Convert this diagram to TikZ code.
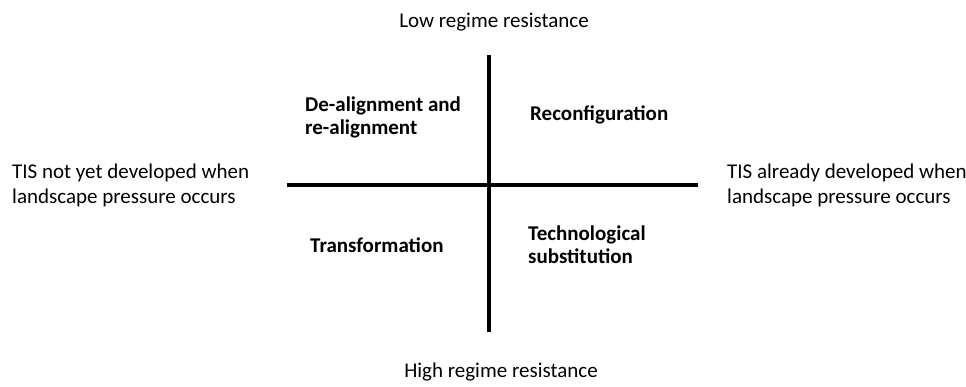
\documentclass[tikz,border=0pt]{standalone}
\usepackage{fontspec}
\setmainfont{Carlito}

\begin{document}
\begin{tikzpicture}[x=1pt, y=-1pt,
	axislabel/.style={font=\fontsize{21}{25}\selectfont, align=left, inner sep=0pt},
	quadrant/.style={font=\fontsize{21}{22.5}\selectfont\bfseries, align=left, inner sep=0pt}]
	\useasboundingbox (0,0) rectangle (966,386);
	\coordinate (top) at (489,55);
	\coordinate (bottom) at (489,332);
	\coordinate (west) at (287,185);
	\coordinate (east) at (698,185);
	\draw[line width=4pt] (top) -- (bottom);
	\draw[line width=4pt] (west) -- (east);
	\node[axislabel, anchor=base] (low) at (494,27) {Low regime resistance};
	\node[axislabel, anchor=base] (high) at (501,377) {High regime resistance};
	\node[axislabel, anchor=base west] (notyet) at (12,203) {TIS not yet developed when\\landscape pressure occurs};
	\node[axislabel, anchor=base west] (already) at (727,203) {TIS already developed when\\landscape pressure occurs};
	\node[quadrant, anchor=base west] (dealign) at (305,134) {De-alignment and\\re-alignment};
	\node[quadrant, anchor=base west] (reconf) at (530,120) {Reconfiguration};
	\node[quadrant, anchor=base west] (transf) at (310,252) {Transformation};
	\node[quadrant, anchor=base west] (subst) at (528,263) {Technological\\substitution};
\end{tikzpicture}
\end{document}
